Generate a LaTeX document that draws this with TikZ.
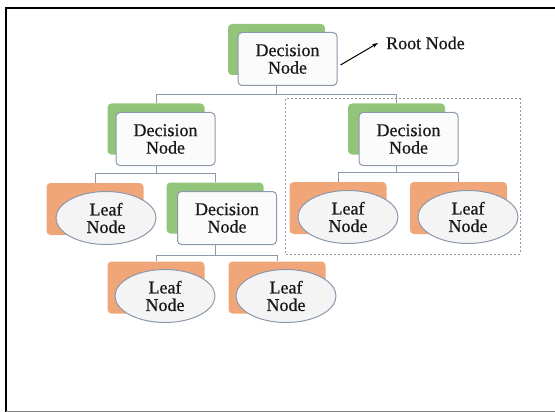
\documentclass[tikz,border=0pt]{standalone}
\usepackage{fontspec}
\setmainfont{Liberation Serif}
\newfontfamily\nodefont[FakeBold=0.6]{Liberation Serif}
\usetikzlibrary{arrows.meta,calc,shapes.geometric}
\definecolor{gback}{RGB}{146,196,122}
\definecolor{oback}{RGB}{240,166,120}
\definecolor{edgec}{RGB}{140,152,172}
\definecolor{ink}{RGB}{25,25,25}
\definecolor{dashc}{RGB}{150,150,155}
\begin{document}
\begin{tikzpicture}[x=1pt,y=-1pt,
  txt/.style={font=\nodefont\fontsize{18}{17.5}\selectfont,text=ink,align=center},
  greenbox/.style={fill=gback,rounded corners=4pt,minimum width=97pt,minimum height=51pt,inner sep=0pt},
  orangebox/.style={fill=oback,rounded corners=4pt,minimum width=97pt,minimum height=52pt,inner sep=0pt},
  decbox/.style={txt,draw=edgec,line width=1pt,fill=gray!3,rounded corners=4pt,minimum width=99pt,minimum height=53pt,inner sep=0pt},
  leafell/.style={txt,ellipse,draw=edgec,line width=1pt,fill=gray!9,minimum width=100pt,minimum height=53pt,inner sep=0pt},
  conn/.style={draw=edgec,line width=1pt}]
\useasboundingbox (0,0) rectangle (555,412);
% frame
\draw[line width=2pt] (6,412) -- (6,8) -- (555,8);
\draw[gray,line width=1pt] (6,411) -- (555,411);
% dashed group
\draw[dashc,line width=1pt,dash pattern=on 2pt off 2pt] (285,99) rectangle (520,254);
% back shapes
\node[greenbox] (rootb) at (276.5,49.5) {};
\node[greenbox] (d1b) at (156,129) {};
\node[greenbox] (d2b) at (396.5,129) {};
\node[greenbox] (d3b) at (215,208) {};
\node[orangebox] (l1b) at (95,209) {};
\node[orangebox] (l2b) at (338,208) {};
\node[orangebox] (l3b) at (458.5,208) {};
\node[orangebox] (l4b) at (156,287.5) {};
\node[orangebox] (l5b) at (277,287.5) {};
% front shapes
\node[decbox] (rootf) at (287.5,59) {Decision\\Node};
\node[decbox] (d1f) at (165.5,139) {Decision\\Node};
\node[decbox] (d2f) at (408.5,139) {Decision\\Node};
\node[decbox] (d3f) at (227,218) {Decision\\Node};
\node[leafell] (l1f) at (106,218) {Leaf\\Node};
\node[leafell] (l2f) at (348,217) {Leaf\\Node};
\node[leafell] (l3f) at (468,217) {Leaf\\Node};
\node[leafell] (l4f) at (165,296) {Leaf\\Node};
\node[leafell] (l5f) at (286,296) {Leaf\\Node};
% connectors
\draw[conn] (rootb.center |- rootf.south) -- ++(0,9) coordinate (r1);
\draw[conn] (r1) -| (d1b.north);
\draw[conn] (r1) -| (d2b.north);
\draw[conn] (d1b.center |- d1f.south) -- ++(0,7) coordinate (r2);
\draw[conn] (r2) -| (l1b.north);
\draw[conn] (r2) -| (d3b.north);
\draw[conn] (d2b.center |- d2f.south) -- ++(0,6) coordinate (r3);
\draw[conn] (r3) -| (l2b.north);
\draw[conn] (r3) -| (l3b.north);
\draw[conn] (d3b.center |- d3f.south) -- ++(0,10) coordinate (r4);
\draw[conn] (r4) -| (l4b.north);
\draw[conn] (r4) -| (l5b.north);
% root label
\node[txt,anchor=west,inner sep=2pt] (lbl) at (384,43) {Root Node};
\draw[line width=1pt,-{Stealth[length=6pt,width=4pt]}] ($(rootf.east)+(3,6)$) -- ($(lbl.west)+(-6,0)$);
\end{tikzpicture}
\end{document}
